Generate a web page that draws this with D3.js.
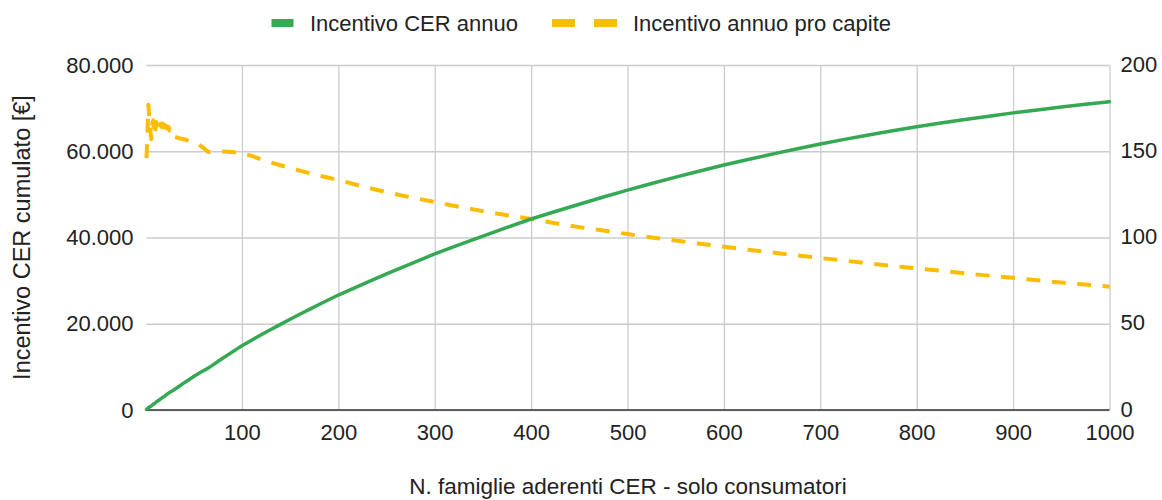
<!DOCTYPE html>
<html>
<head>
<meta charset="utf-8">
<script src="https://cdn.jsdelivr.net/npm/d3@7"></script>
<style>
  html, body { margin: 0; padding: 0; background: #fff; }
  svg { display: block; font-family: "Liberation Sans", Arial, sans-serif; }
</style>
</head>
<body>
<svg id="chart" width="1162" height="500"></svg>
<script>
// Numero di famiglie aderenti (asse X)
const famiglie = [
  1,2,3,4,5,6,7,8,9,10,11,12,13,14,15,16,17,18,19,20,21,22,23,24,25,26,27,28,29,30,
  35,40,45,50,55,60,65,70,75,80,85,90,95,100,
  110,120,130,140,150,160,170,180,190,200,
  225,250,275,300,325,350,375,400,425,450,475,500,525,550,575,600,
  625,650,675,700,725,750,775,800,825,850,875,900,925,950,975,1000
];

// Incentivo CER annuo cumulato [€] (asse sinistro)
const incentivoAnnuo = [
  146,322,531,676,810,942,1162,1344,1431,1620,1837,1980,2171,2282,2460,2656,2788,2988,3059,3200,
  3465,3608,3749,3936,4050,4238,4347,4480,4611,4755,
  5513,6280,7020,7775,8470,9120,9718,10465,11235,11984,12725,13455,14174,14900,
  16200,17440,18660,19860,21040,22200,23340,24460,25570,26660,
  29150,31570,33900,36180,38290,40340,42340,44290,46030,47720,49380,51000,52520,53990,55410,56800,
  58080,59330,60530,61700,62750,63760,64740,65700,66540,67350,68140,68900,69580,70240,70880,71500
];

// Incentivo annuo pro capite [€] (asse destro)
const incentivoProCapite = [
  146,161,177,169,162,157,166,168,159,162,167,165,167,163,164,166,164,166,161,160,
  165,164,163,164,162,163,161,160,159,158.5,
  157.5,157,156,155.5,154,152,149.5,149.5,149.8,149.8,149.7,149.5,149.2,149,
  147.3,145.3,143.5,141.9,140.3,138.8,137.3,135.9,134.6,133.3,
  129.6,126.3,123.3,120.6,117.8,115.3,112.9,110.7,108.3,106.0,104.0,102.0,100.0,98.2,96.4,94.7,
  92.9,91.3,89.7,88.1,86.6,85.0,83.5,82.1,80.7,79.2,77.9,76.6,75.2,73.9,72.7,71.5
];

// Tacche degli assi
const xTicks = [100,200,300,400,500,600,700,800,900,1000];
const leftTicks = [0,20000,40000,60000,80000];
const rightTicks = [0,50,100,150,200];

const seriesNames = ["Incentivo CER annuo", "Incentivo annuo pro capite"];
const xTitle = "N. famiglie aderenti CER - solo consumatori";
const yTitle = "Incentivo CER cumulato [€]";

const colGreen = "#34a853";
const colYellow = "#fbbc04";
const textCol = "#222222";
const gridCol = "#cccccc";
const font = "'Liberation Sans', Arial, sans-serif";

const it = d3.formatLocale({ decimal: ",", thousands: ".", grouping: [3], currency: ["€", ""] });
const fmt = it.format(",.0f");

const svg = d3.select("#chart");
const plot = { left: 146.5, right: 1109.5, top: 65, bottom: 410 };

const x = d3.scaleLinear().domain([1, 1000]).range([plot.left, plot.right]);
const yL = d3.scaleLinear().domain([0, 80000]).range([plot.bottom, plot.top]);
const yR = d3.scaleLinear().domain([0, 200]).range([plot.bottom, plot.top]);

// Griglia orizzontale
const gy = svg.append("g")
  .attr("transform", `translate(${plot.left},0)`)
  .call(d3.axisLeft(yL).tickValues(leftTicks).tickSize(-(plot.right - plot.left)).tickFormat(""));
gy.select(".domain").remove();
gy.selectAll("line").attr("stroke", gridCol).attr("stroke-width", 1.3);

// Griglia verticale
const gx = svg.append("g")
  .attr("transform", `translate(0,${plot.bottom})`)
  .call(d3.axisBottom(x).tickValues(xTicks).tickSize(-(plot.bottom - plot.top)).tickFormat(""));
gx.select(".domain").remove();
gx.selectAll("line").attr("stroke", gridCol).attr("stroke-width", 1.3);

// Linea di base
svg.append("line")
  .attr("x1", plot.left).attr("x2", plot.right)
  .attr("y1", yL(0)).attr("y2", yL(0))
  .attr("stroke", "#333").attr("stroke-width", 1.3);

// Etichette asse sinistro
const axL = svg.append("g")
  .attr("transform", `translate(${plot.left},0)`)
  .call(d3.axisLeft(yL).tickValues(leftTicks).tickSize(0).tickPadding(13).tickFormat(fmt));
axL.select(".domain").remove();
axL.selectAll("text").attr("font-size", 22).attr("fill", textCol).attr("font-family", font);

// Etichette asse destro
const axR = svg.append("g")
  .attr("transform", `translate(${plot.right},0)`)
  .call(d3.axisRight(yR).tickValues(rightTicks).tickSize(0).tickPadding(11).tickFormat(d3.format("d")));
axR.select(".domain").remove();
axR.selectAll("text").attr("font-size", 22).attr("fill", textCol).attr("font-family", font)
  .attr("dy", "0.28em");

// Etichette asse X
const axX = svg.append("g")
  .attr("transform", `translate(0,${plot.bottom})`)
  .call(d3.axisBottom(x).tickValues(xTicks).tickSize(0).tickPadding(14.5).tickFormat(d3.format("d")));
axX.select(".domain").remove();
axX.selectAll("text").attr("font-size", 22).attr("fill", textCol).attr("font-family", font);

// Serie
const pts = famiglie.map((n, i) => ({ n, a: incentivoAnnuo[i], p: incentivoProCapite[i] }));

svg.append("path")
  .datum(pts)
  .attr("fill", "none")
  .attr("stroke", colYellow)
  .attr("stroke-width", 4)
  .attr("stroke-dasharray", "14,11.5")
  .attr("stroke-linejoin", "round")
  .attr("d", d3.line().x(d => x(d.n)).y(d => yR(d.p)));

svg.append("path")
  .datum(pts)
  .attr("fill", "none")
  .attr("stroke", colGreen)
  .attr("stroke-width", 3.5)
  .attr("stroke-linejoin", "round")
  .attr("stroke-linecap", "round")
  .attr("d", d3.line().x(d => x(d.n)).y(d => yL(d.a)));

// Legenda
const leg = svg.append("g").attr("font-size", 22).attr("fill", textCol);
leg.append("rect").attr("x", 271.5).attr("y", 19).attr("width", 22).attr("height", 8).attr("fill", colGreen);
leg.append("text").attr("x", 310).attr("y", 31).text(seriesNames[0]);
leg.append("rect").attr("x", 552).attr("y", 19).attr("width", 23).attr("height", 8).attr("fill", colYellow);
leg.append("rect").attr("x", 594).attr("y", 19).attr("width", 23).attr("height", 8).attr("fill", colYellow);
leg.append("text").attr("x", 633).attr("y", 31).text(seriesNames[1]);

// Titoli degli assi
svg.append("text")
  .attr("x", (plot.left + plot.right) / 2).attr("y", 494)
  .attr("text-anchor", "middle").attr("font-size", 22.5).attr("fill", textCol)
  .text(xTitle);

svg.append("text")
  .attr("transform", `translate(30,${(plot.top + plot.bottom) / 2}) rotate(-90)`)
  .attr("text-anchor", "middle").attr("font-size", 23.5).attr("fill", textCol)
  .text(yTitle);
</script>
</body>
</html>
